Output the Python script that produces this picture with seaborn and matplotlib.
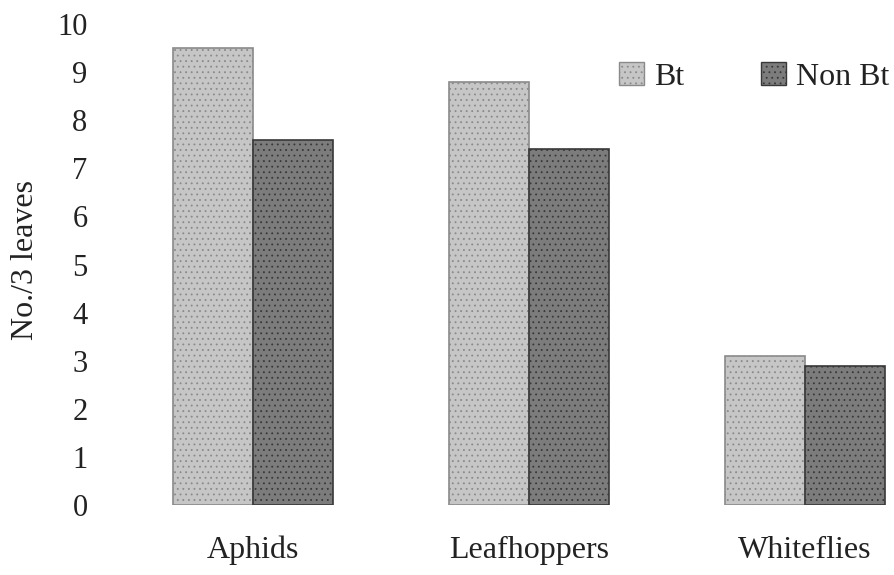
import matplotlib
matplotlib.use("Agg")
import matplotlib.pyplot as plt
from matplotlib.patches import Patch
import seaborn as sns
import pandas as pd

# Insect counts per three leaves on Bt and non-Bt plants
pests = ["Aphids", "Leafhoppers", "Whiteflies"]
bt_counts = [9.5, 8.8, 3.1]
non_bt_counts = [7.6, 7.4, 2.9]
groups = ["Bt", "Non Bt"]
y_ticks = list(range(0, 11))

df = pd.DataFrame({
    "pest": pests * 2,
    "count": bt_counts + non_bt_counts,
    "type": [groups[0]] * len(pests) + [groups[1]] * len(pests),
})

sns.set_theme(style="white")
plt.rcParams["font.family"] = ["Liberation Serif", "DejaVu Serif"]
plt.rcParams["hatch.linewidth"] = 0.6

faces = {"Bt": "#c6c6c6", "Non Bt": "#7c7c7c"}
edges = {"Bt": "#8a8a8a", "Non Bt": "#383838"}
hatches = {"Bt": "...", "Non Bt": "..."}

W, H = 894, 575
fig = plt.figure(figsize=(W / 100, H / 100), dpi=100)
left_px, right_px, top_px, base_px = 100, 892, 15, 505
ax = fig.add_axes([left_px / W, (H - base_px) / H,
                   (right_px - left_px) / W, (base_px - top_px) / H])

sns.barplot(data=df, x="pest", y="count", hue="type", order=pests,
            hue_order=groups, palette=[faces[g] for g in groups],
            width=0.58, gap=0, legend=False, ax=ax, saturation=1)

for g, cont in zip(groups, ax.containers):
    for bar in cont:
        bar.set_edgecolor(edges[g])
        bar.set_linewidth(1.2)
        bar.set_hatch(hatches[g])

ax.set_xlim(-0.554, 2.315)
ax.set_ylim(0, 10.19)
ax.set_yticks(y_ticks)
ax.set_yticklabels([str(t) for t in y_ticks])
ax.tick_params(axis="y", length=0, pad=9, labelsize=22, labelcolor="#222222")
ax.tick_params(axis="x", length=0, pad=22, labelsize=23, labelcolor="#222222")
ax.set_xlabel("")
ax.set_ylabel("No./3 leaves", fontsize=23, color="#222222", labelpad=12)
for s in ax.spines.values():
    s.set_visible(False)

handles = [Patch(facecolor=faces[g], edgecolor=edges[g], hatch=hatches[g],
                 linewidth=1.0) for g in groups]
fig.legend(handles, groups, ncol=2, frameon=False, fontsize=23,
           loc="center right", bbox_to_anchor=(889 / W, 1 - 77 / H),
           handlelength=0.78, handleheight=0.75, handletextpad=0.31,
           columnspacing=2.4, borderaxespad=0, borderpad=0,
           labelcolor="#222222")

fig.savefig("out.png", dpi=100)
